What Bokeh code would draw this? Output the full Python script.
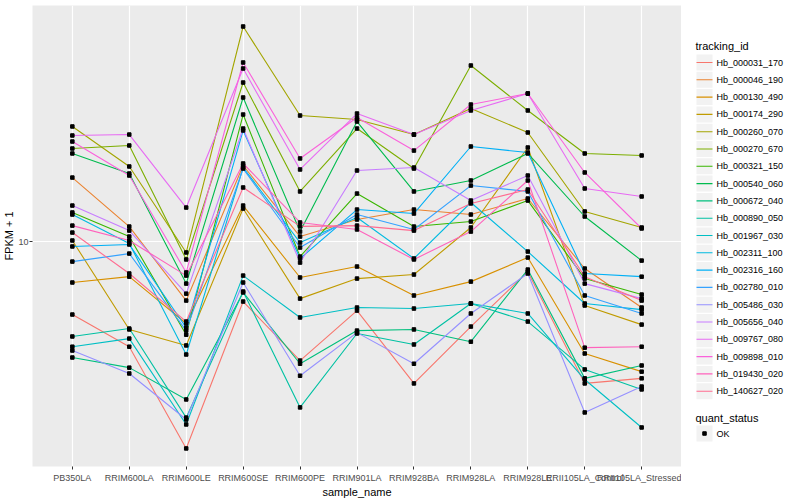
from bokeh.plotting import figure
from bokeh.layouts import row
from bokeh.models import FactorRange, Range1d, FixedTicker
from bokeh.core.properties import value
from bokeh.embed import file_html
from bokeh.resources import INLINE

samples = ["PB350LA", "RRIM600LA", "RRIM600LE", "RRIM600SE", "RRIM600PE", "RRIM901LA",
           "RRIM928BA", "RRIM928LA", "RRIM928LE", "RRII105LA_Control", "RRII105LA_Stressed"]

tracking_ids = ["Hb_000031_170", "Hb_000046_190", "Hb_000130_490", "Hb_000174_290",
                "Hb_000260_070", "Hb_000270_670", "Hb_000321_150", "Hb_000540_060",
                "Hb_000672_040", "Hb_000890_050", "Hb_001967_030", "Hb_002311_100",
                "Hb_002316_160", "Hb_002780_010", "Hb_005486_030", "Hb_005656_040",
                "Hb_009767_080", "Hb_009898_010", "Hb_019430_020", "Hb_140627_020"]

quant_status = ["OK"]

colors = ["#F8766D", "#EA8331", "#D89000", "#C09B00", "#A3A500", "#7CAE00", "#39B600",
          "#00BB4E", "#00BF7D", "#00C1A3", "#00BFC4", "#00BAE0", "#00B0F6", "#35A2FF",
          "#9590FF", "#C77CFF", "#E76BF3", "#FA62DB", "#FF62BC", "#FF6C91"]

# FPKM + 1 per sample
hb_000031_170 = [6.57, 5.46, 3.04, 7.08, 5.04, 6.72, 4.42, 6.13, 8.41, 4.42, 4.55]
hb_000046_190 = [14.45, 10.9, 7.12, 15.49, 10.29, 11.35, 12.02, 11.68, 12.81, 8.56, 6.84]
hb_000130_490 = [7.90, 8.17, 6.24, 12.30, 8.13, 8.66, 7.33, 7.94, 9.12, 5.25, 4.73]
hb_000174_290 = [10.06, 6.03, 5.50, 12.09, 7.20, 8.08, 8.27, 10.84, 17.18, 6.92, 6.20]
hb_000260_070 = [19.39, 15.40, 9.39, 34.47, 20.65, 20.18, 18.51, 21.50, 18.73, 11.89, 10.84]
hb_000270_670 = [17.08, 17.38, 9.02, 24.97, 13.34, 19.16, 15.22, 27.54, 21.26, 16.60, 16.41]
hb_000321_150 = [11.82, 10.29, 5.85, 20.77, 9.17, 13.18, 10.90, 11.22, 12.66, 8.08, 7.37]
hb_000540_060 = [16.60, 14.79, 7.85, 22.91, 10.59, 19.95, 13.34, 14.21, 16.60, 11.55, 8.96]
hb_000672_040 = [5.13, 4.84, 4.03, 7.46, 4.95, 5.99, 6.03, 5.62, 8.51, 4.55, 4.90]
hb_000890_050 = [5.79, 6.06, 3.63, 7.50, 3.85, 5.89, 5.53, 7.00, 6.31, 4.79, 4.27]
hb_001967_030 = [5.46, 5.72, 3.49, 8.22, 6.46, 6.84, 6.80, 7.00, 6.61, 4.52, 3.43]
hb_002311_100 = [11.68, 9.89, 5.22, 15.31, 9.94, 11.48, 9.07, 12.52, 9.44, 7.00, 6.76]
hb_002316_160 = [9.72, 9.83, 6.09, 18.95, 9.07, 12.02, 11.75, 17.28, 16.69, 8.32, 8.17]
hb_002780_010 = [8.91, 9.33, 5.99, 15.22, 9.66, 11.68, 10.72, 13.80, 13.34, 7.33, 6.61]
hb_005486_030 = [5.34, 4.68, 3.59, 7.90, 4.62, 5.92, 4.95, 6.61, 8.32, 3.74, 4.34]
hb_005656_040 = [12.30, 10.65, 7.41, 19.16, 8.86, 15.05, 15.31, 12.66, 14.62, 7.85, 7.20]
hb_009767_080 = [18.41, 18.51, 12.16, 27.07, 15.14, 20.89, 18.51, 21.26, 23.44, 13.57, 12.96]
hb_009898_010 = [17.78, 14.62, 8.37, 28.02, 16.13, 20.42, 16.88, 22.00, 23.44, 14.88, 10.78]
hb_019430_020 = [10.96, 10.06, 8.22, 15.67, 11.16, 10.72, 9.02, 10.59, 14.21, 5.43, 5.46]
hb_140627_020 = [10.53, 8.32, 6.31, 13.65, 10.91, 10.96, 10.65, 12.45, 13.49, 8.17, 7.12]

series = [hb_000031_170, hb_000046_190, hb_000130_490, hb_000174_290, hb_000260_070,
          hb_000270_670, hb_000321_150, hb_000540_060, hb_000672_040, hb_000890_050,
          hb_001967_030, hb_002311_100, hb_002316_160, hb_002780_010, hb_005486_030,
          hb_005656_040, hb_009767_080, hb_009898_010, hb_019430_020, hb_140627_020]

FONT = "Liberation Sans"

p = figure(x_range=FactorRange(factors=samples, range_padding=0.2, range_padding_units="absolute"),
           y_range=Range1d(2.74, 38.9), y_axis_type="log",
           frame_width=649, frame_height=461,
           output_backend="svg", toolbar_location=None,
           min_border_left=0, min_border_right=0, min_border_top=5, min_border_bottom=0,
           background_fill_color="#EBEBEB", border_fill_color="white", outline_line_color=None,
           x_axis_label="sample_name", y_axis_label="FPKM + 1")

p.xgrid.grid_line_color = "white"
p.xgrid.grid_line_width = 1.2
p.ygrid.grid_line_color = "white"
p.ygrid.grid_line_width = 1.2
p.yaxis.ticker = FixedTicker(ticks=[10], minor_ticks=[])
p.ygrid.ticker = FixedTicker(ticks=[10], minor_ticks=[])
p.yaxis.major_label_overrides = {10: "10"}

for ax in (p.xaxis, p.yaxis):
    ax.axis_line_color = None
    ax.major_tick_line_color = "#333333"
    ax.major_tick_in = 0
    ax.major_tick_out = 3
    ax.minor_tick_line_color = None
    ax.major_label_text_font = FONT
    ax.major_label_text_font_size = "9px"
    ax.major_label_text_color = "#4D4D4D"
    ax.major_label_standoff = 1
    ax.axis_label_text_font = FONT
    ax.axis_label_text_font_size = "11px"
    ax.axis_label_text_font_style = "normal"
    ax.axis_label_text_color = "black"
    ax.axis_label_standoff = 0
p.xaxis.major_label_standoff = 3
p.xaxis.axis_label_standoff = 0
p.xaxis.major_label_orientation = "horizontal"

for vals, c in zip(series, colors):
    p.line(samples, vals, line_color=c, line_width=1.1)
for vals in series:
    p.scatter(samples, vals, marker="square", size=3.5, color="black")

# ---- legend panel, drawn in pixel-like units (x: page px from 682, y: page px from top)
LX0 = 682
lg = figure(frame_width=114, frame_height=466, output_backend="svg", toolbar_location=None,
            x_range=Range1d(LX0, LX0 + 114), y_range=Range1d(466, 0),
            x_axis_location=None, y_axis_location=None,
            min_border_left=0, min_border_right=0, min_border_top=0, min_border_bottom=0,
            outline_line_color=None, background_fill_color="white", border_fill_color="white")
lg.grid.visible = False

key_x = 705
step = 17.3
first = 57
ys = [first + step * i for i in range(len(tracking_ids))]

lg.text(x=[696], y=[40], text=["tracking_id"], text_font=value(FONT), text_font_size="11px",
        text_color="black", text_baseline="middle", text_align="left")
lg.rect(x=[key_x] * len(ys), y=ys, width=16, height=16, fill_color="#F2F2F2", line_color=None)
lg.segment(x0=[key_x - 8] * len(ys), x1=[key_x + 8] * len(ys), y0=ys, y1=ys,
           line_color=colors, line_width=1.1)
lg.text(x=[717] * len(ys), y=ys, text=tracking_ids, text_font=value(FONT), text_font_size="9px",
        text_color="black", text_baseline="middle", text_align="left")

q_title_y = 412
q_y = 428
lg.text(x=[696], y=[q_title_y], text=["quant_status"], text_font=value(FONT), text_font_size="11px",
        text_color="black", text_baseline="middle", text_align="left")
lg.rect(x=[key_x], y=[q_y], width=16, height=16, fill_color="#F2F2F2", line_color=None)
lg.scatter(x=[key_x], y=[q_y], marker="square", size=3.5, color="black")
lg.text(x=[717], y=[q_y], text=quant_status, text_font=value(FONT), text_font_size="9px",
        text_color="black", text_baseline="middle", text_align="left")

layout = row(p, lg)
open("out.html", "w").write(file_html(layout, INLINE))
